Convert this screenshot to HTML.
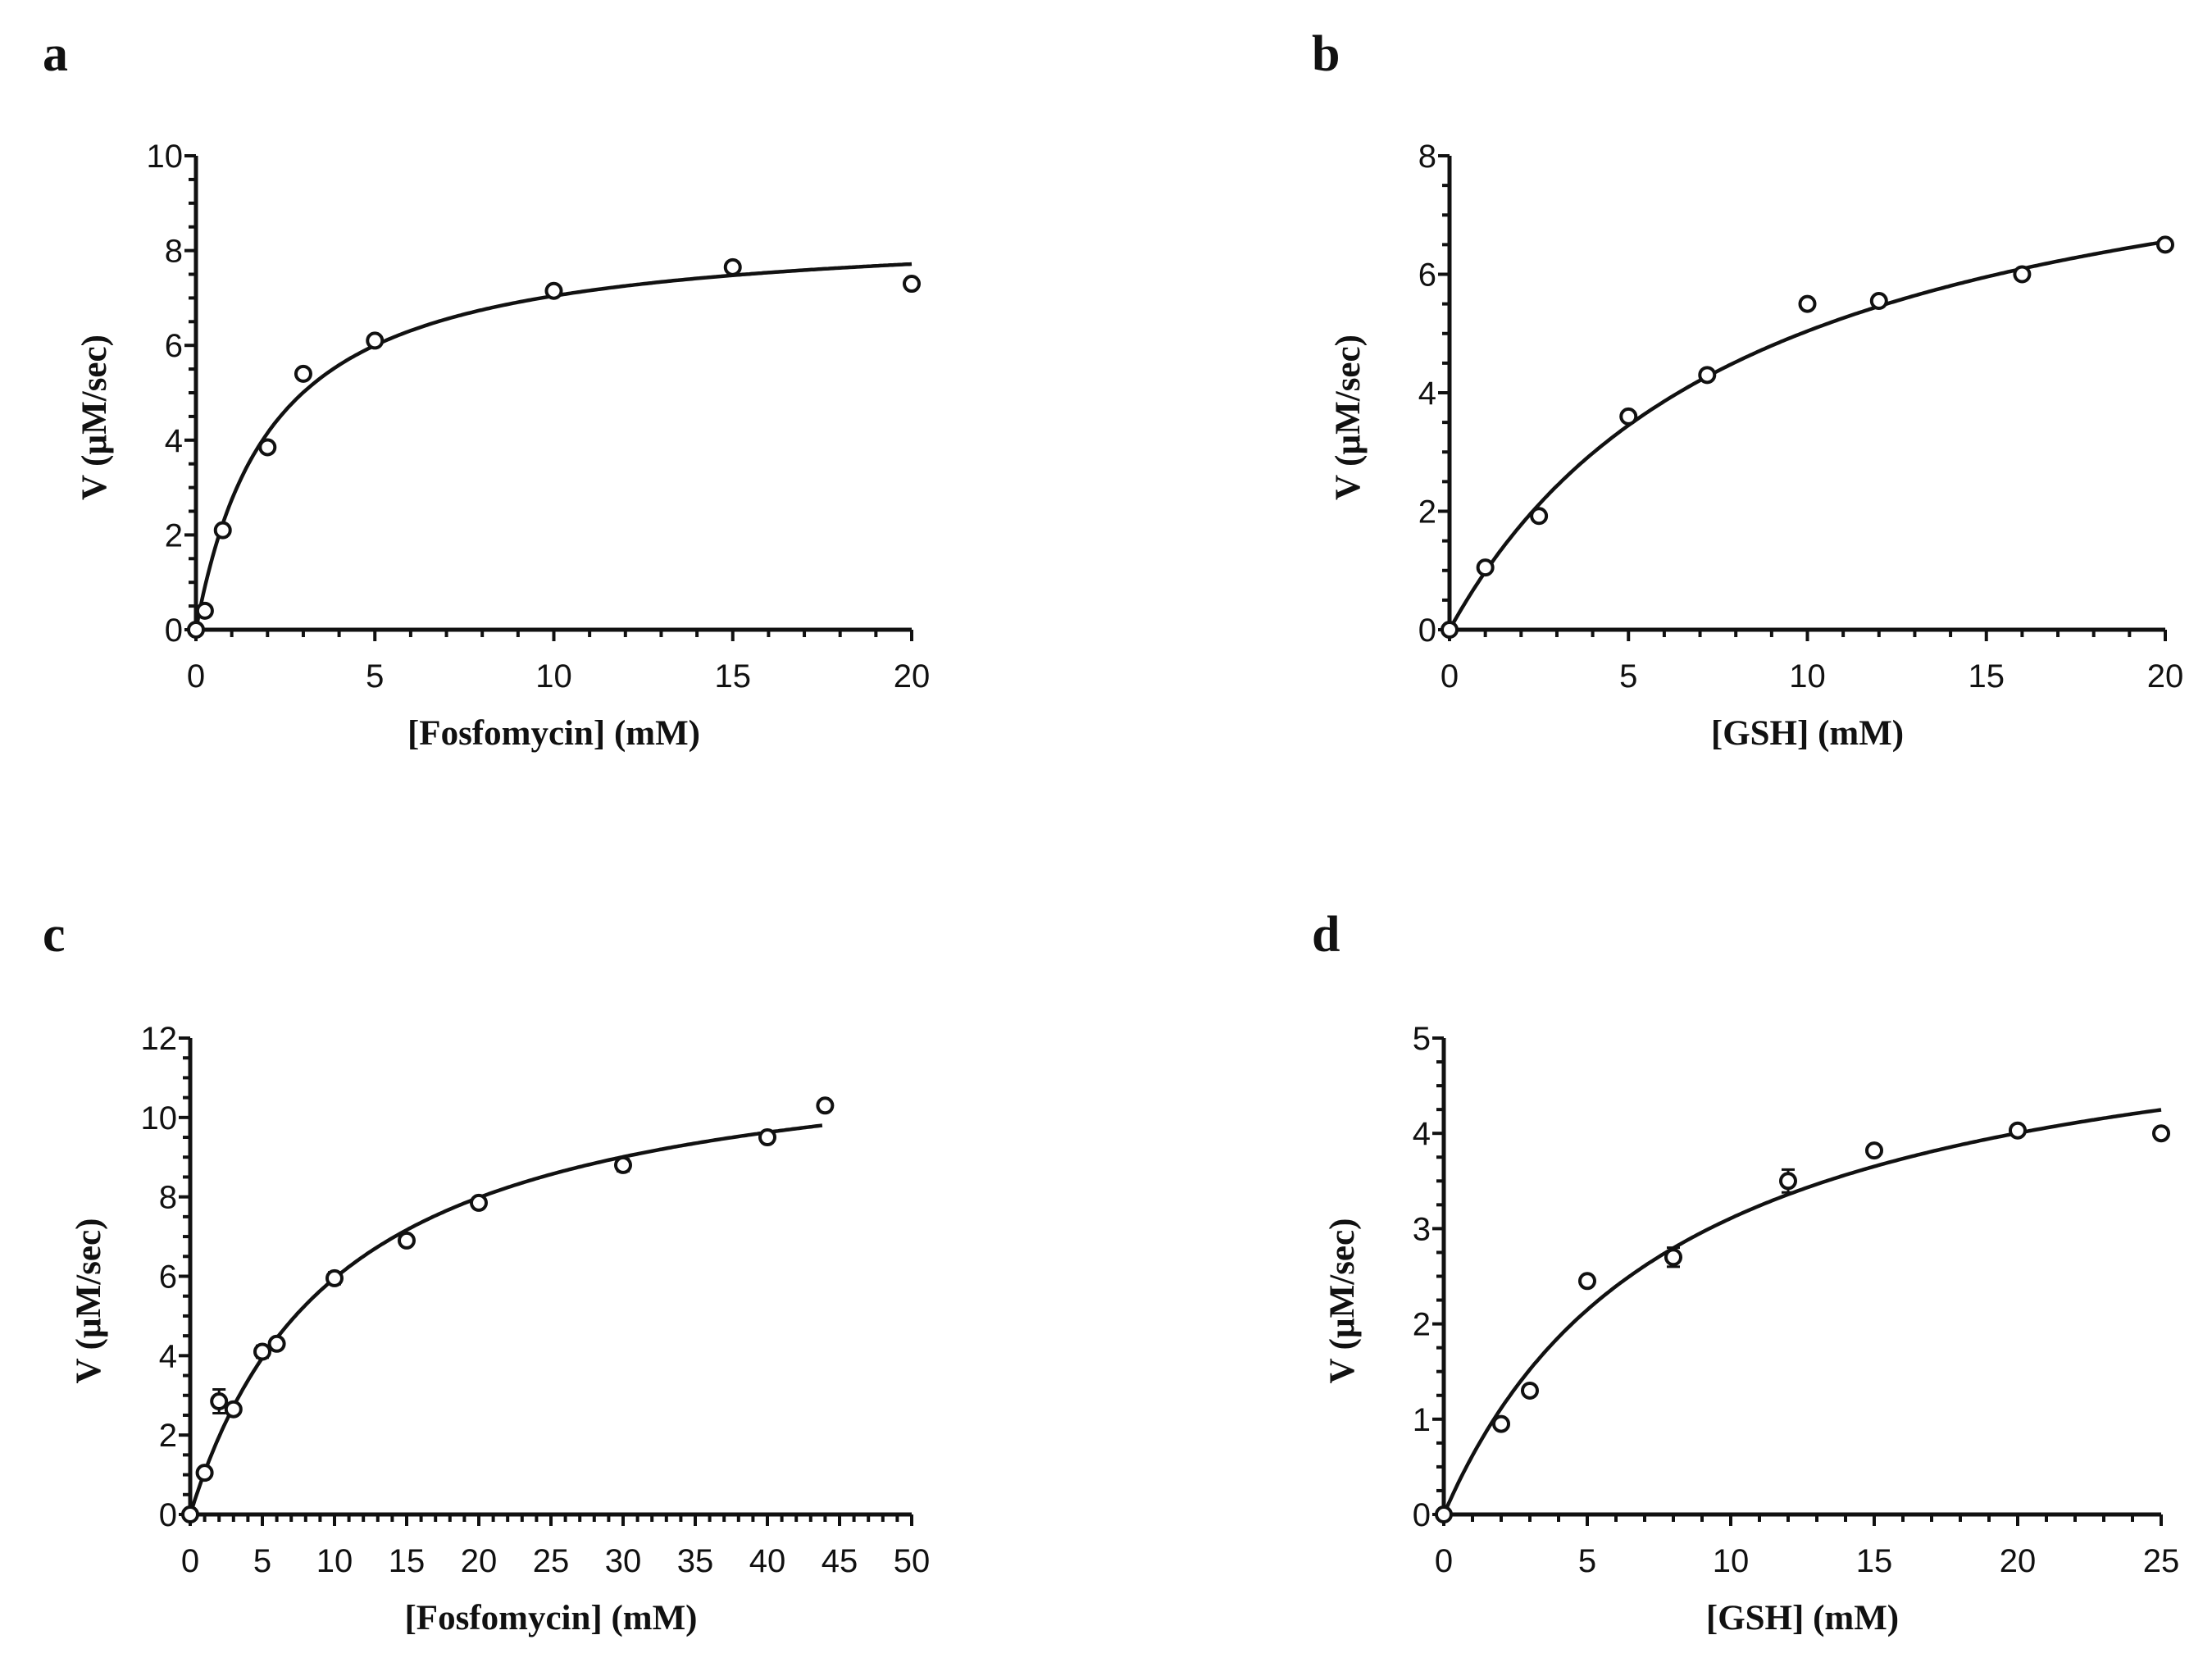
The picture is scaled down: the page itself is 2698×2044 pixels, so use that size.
<!DOCTYPE html>
<html><head><meta charset="utf-8"><style>
html,body{margin:0;padding:0;background:#fff}
svg{display:block}
.tk{font-family:"Liberation Sans",Arial,sans-serif;font-size:40px;fill:#111}
.ti{font-family:"Liberation Serif","Times New Roman",serif;font-size:43px;font-weight:bold;fill:#111}
.pl{font-family:"Liberation Serif","Times New Roman",serif;font-size:62px;font-weight:bold;fill:#111}
</style></head><body>
<svg id="fig" width="2698" height="2044" viewBox="0 0 2698 2044"></svg>
<script>
// Panel a
const aX=[0,0.25,0.75,2,3,5,10,15,20];
const aY=[0,0.4,2.1,3.85,5.4,6.1,7.15,7.65,7.3];
const aFit=[8.53,2.11];
// Panel b
const bX=[0,1,2.5,5,7.2,10,12,16,20];
const bY=[0,1.05,1.92,3.6,4.3,5.5,5.55,6.0,6.5];
const bFit=[9.35,8.55];
// Panel c
const cX=[0,1,2,3,5,6,10,15,20,30,40,44];
const cY=[0,1.05,2.85,2.65,4.1,4.3,5.95,6.9,7.85,8.8,9.5,10.3];
const cErr=[0,0.1,0.3,0.1,0.15,0.1,0.15,0.1,0.1,0.15,0.1,0.1];
const cFit=[12.12,10.37];
// Panel d
const dX=[0,2,3,5,8,12,15,20,25];
const dY=[0,0.95,1.3,2.45,2.7,3.5,3.82,4.03,4.0];
const dErr=[0,0.05,0.05,0.05,0.1,0.12,0.05,0.08,0.05];
const dFit=[5.62,8.08];

const NS="http://www.w3.org/2000/svg";
const svg=document.getElementById('fig');
function mk(tag,attrs,parent,txt){const e=document.createElementNS(NS,tag);for(const k in attrs)e.setAttribute(k,attrs[k]);if(txt!==undefined)e.textContent=txt;(parent||svg).appendChild(e);return e;}

function panel(p){
  const g=mk('g',{});
  
  
  const sx=v=>p.x0+(v-p.xmin)/(p.xmax-p.xmin)*(p.x1-p.x0);
  const sy=v=>p.y0-(v)/(p.ymax)*(p.y0-p.y1);
  const lab=mk('text',{x:p.lx,y:p.ly,class:'pl'},g,p.id);
  
  
  const ya=mk('line',{x1:p.x0,y1:p.y0,x2:p.x0,y2:p.y1,stroke:'#111','stroke-width':5},g);
  
  
  const xa=mk('line',{x1:p.x0,y1:p.y0,x2:p.x1,y2:p.y0,stroke:'#111','stroke-width':5},g);
  
  
  for(let v=0;v<=p.ymax+1e-9;v+=p.yminor){
    const major=Math.abs(v/p.ymajor-Math.round(v/p.ymajor))<1e-6;
    mk('line',{x1:p.x0-(major?14:9),y1:sy(v),x2:p.x0,y2:sy(v),stroke:'#111','stroke-width':4},g);
    if(major){const t=mk('text',{x:p.x0-16,y:sy(v)+14,class:'tk','text-anchor':'end'},g,String(Math.round(v)));
      
      }
  }
  for(let v=p.xmin;v<=p.xmax+1e-9;v+=p.xminor){
    const major=Math.abs(v/p.xmajor-Math.round(v/p.xmajor))<1e-6;
    mk('line',{x1:sx(v),y1:p.y0,x2:sx(v),y2:p.y0+(major?14:9),stroke:'#111','stroke-width':4},g);
    if(major){const t=mk('text',{x:sx(v),y:p.y0+70,class:'tk','text-anchor':'middle'},g,String(Math.round(v)));
      
      }
  }
  const xt=mk('text',{x:(p.x0+p.x1)/2,y:p.y0+140,class:'ti','text-anchor':'middle'},g,p.xt);
  
  
  const yc=(p.y0+p.y1)/2+30;
  const yx=p.x0-110;
  const yt=mk('text',{x:yx,y:yc,class:'ti','text-anchor':'middle',transform:`rotate(-90 ${yx} ${yc})`},g,'V (µM/sec)');
  
  
  let d='';const xe=p.fitEnd;
  for(let i=0;i<=300;i++){const x=xe*i/300;const y=p.fit[0]*x/(p.fit[1]+x);d+=(i?'L':'M')+sx(x).toFixed(1)+' '+sy(y).toFixed(1);}
  const c=mk('path',{d:d,fill:'none',stroke:'#111','stroke-width':4.5},g);
  
  
  p.X.forEach((x,i)=>{
    if(p.E&&p.E[i]>0.08){
      const e=mk('path',{d:`M${sx(x)} ${sy(p.Y[i]-p.E[i])}V${sy(p.Y[i]+p.E[i])}M${sx(x)-8} ${sy(p.Y[i]-p.E[i])}h16M${sx(x)-8} ${sy(p.Y[i]+p.E[i])}h16`,stroke:'#111','stroke-width':3,fill:'none'},g);
      
      
    }
    const pt=mk('circle',{cx:sx(x),cy:sy(p.Y[i]),r:9,fill:'#fff',stroke:'#111','stroke-width':4},g);
    
    
  });
}
panel({id:'a',lx:52,ly:86,x0:239,x1:1112,y0:768,y1:190,xmin:0,xmax:20,ymax:10,ymajor:2,yminor:0.5,xmajor:5,xminor:1,X:aX,Y:aY,fit:aFit,fitEnd:20,xt:'[Fosfomycin] (mM)'});
panel({id:'b',lx:1600,ly:86,x0:1768,x1:2641,y0:768,y1:190,xmin:0,xmax:20,ymax:8,ymajor:2,yminor:0.5,xmajor:5,xminor:1,X:bX,Y:bY,fit:bFit,fitEnd:20,xt:'[GSH] (mM)'});
panel({id:'c',lx:52,ly:1160,x0:232,x1:1112,y0:1847,y1:1266,xmin:0,xmax:50,ymax:12,ymajor:2,yminor:0.5,xmajor:5,xminor:1,X:cX,Y:cY,E:cErr,fit:cFit,fitEnd:43.8,xt:'[Fosfomycin] (mM)'});
panel({id:'d',lx:1600,ly:1160,x0:1761,x1:2636,y0:1847,y1:1266,xmin:0,xmax:25,ymax:5,ymajor:1,yminor:0.25,xmajor:5,xminor:1,X:dX,Y:dY,E:dErr,fit:dFit,fitEnd:25,xt:'[GSH] (mM)'});
</script>
</body></html>
